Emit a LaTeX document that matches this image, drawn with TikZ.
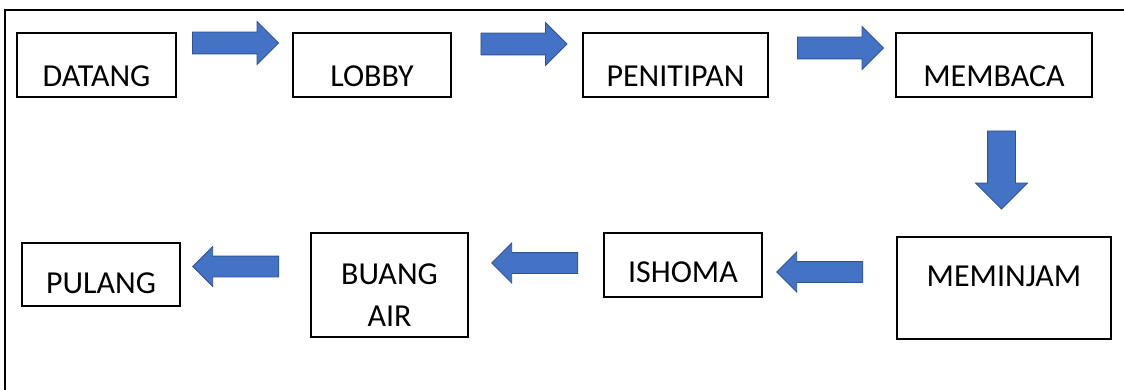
\documentclass[tikz,border=0pt]{standalone}
\usepackage{fontspec}
\setmainfont{Carlito}
\usetikzlibrary{shapes.arrows}

\definecolor{arrowblue}{HTML}{4472C4}
\definecolor{arrowedge}{HTML}{2F528F}

\tikzset{
  box/.style={draw=black, line width=1.5pt, inner sep=0pt, minimum height=64pt,
    text height=43.6pt, text depth=0pt, font=\fontsize{32}{42}\selectfont},
  blockarrow/.style={single arrow, fill=arrowblue, draw=arrowedge, line width=0.8pt,
    inner xsep=0pt, inner ysep=10.5pt, single arrow head extend=10.5pt, minimum height=86pt},
}

\begin{document}
\begin{tikzpicture}[x=1pt, y=-1pt]
\useasboundingbox (0,0) rectangle (1124,390);
\clip (0,0) rectangle (1124,390);
\draw[line width=1.5pt] (5,10) rectangle (1140,400);

% top row
\node[box, minimum width=159pt] (datang) at (96.5,65) {DATANG};
\node[box, minimum width=158pt] (lobby) at (372,65) {LOBBY};
\node[box, minimum width=185pt] (penitipan) at (675.5,65) {PENITIPAN};
\node[box, minimum width=196pt] (membaca) at (994,65) {MEMBACA};

\node[blockarrow] (ar1) at (230,43) {};
\node[blockarrow] (ar2) at (518.5,44) {};
\node[blockarrow] (ar3) at (835,48) {};

% down to the second row
\node[blockarrow, rotate=-90, inner ysep=13.5pt, single arrow head extend=12pt, minimum height=78pt] (ar4) at (1001.5,163) {};

% bottom row, right to left
\node[box, minimum width=214pt, minimum height=102pt, text height=20.2pt, text depth=24pt] (meminjam) at (1004,288) {MEMINJAM};
\node[box, minimum width=158pt, text height=34.2pt] (ishoma) at (683,265) {ISHOMA};
\node[box, minimum width=157pt, minimum height=104pt, align=center, text height=82pt] (buangair) at (389.5,285) {BUANG\\AIR};
\node[box, minimum width=158pt, minimum height=63pt, text height=37.2pt] (pulang) at (101,274.5) {PULANG};

\node[blockarrow, rotate=180, inner ysep=10pt, single arrow head extend=9.5pt] (ar5) at (825,272) {};
\node[blockarrow, rotate=180, inner ysep=10pt, single arrow head extend=9.5pt] (ar6) at (540,263) {};
\node[blockarrow, rotate=180, inner ysep=10pt, single arrow head extend=9.5pt] (ar7) at (241,266.5) {};
\end{tikzpicture}
\end{document}
